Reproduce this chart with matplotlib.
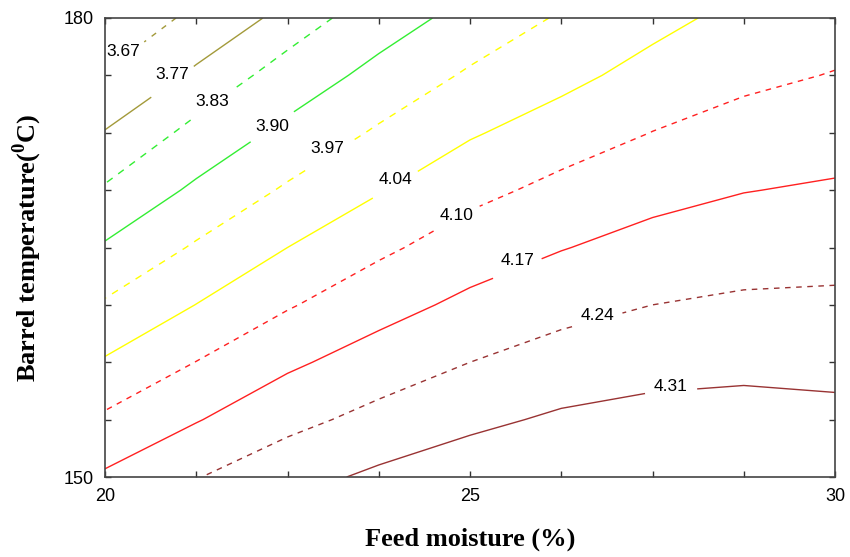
import numpy as np
import matplotlib
matplotlib.use("Agg")
import matplotlib.pyplot as plt

# Grid (feed moisture %, barrel temperature degC)
moisture = [20.0, 21.25, 22.5, 23.75, 25.0, 26.25, 27.5, 28.75, 30.0]
temperature = [150.0, 153.75, 157.5, 161.25, 165.0, 168.75, 172.5, 176.25, 180.0]

# Response values; one row per temperature (150 -> 180),
# one column per moisture (20 -> 30)
z_t150 = [4.180, 4.237, 4.286, 4.323, 4.350, 4.365, 4.372, 4.376, 4.365]
z_t154 = [4.110, 4.166, 4.220, 4.261, 4.295, 4.320, 4.332, 4.335, 4.328]
z_t158 = [4.047, 4.101, 4.158, 4.202, 4.240, 4.269, 4.286, 4.293, 4.290]
z_t161 = [3.978, 4.041, 4.094, 4.144, 4.186, 4.218, 4.240, 4.251, 4.253]
z_t165 = [3.908, 3.978, 4.040, 4.087, 4.133, 4.167, 4.194, 4.209, 4.215]
z_t169 = [3.837, 3.913, 3.979, 4.036, 4.082, 4.117, 4.148, 4.168, 4.178]
z_t173 = [3.775, 3.848, 3.918, 3.979, 4.034, 4.069, 4.101, 4.126, 4.140]
z_t176 = [3.677, 3.787, 3.856, 3.922, 3.979, 4.023, 4.061, 4.085, 4.103]
z_t180 = [3.575, 3.697, 3.797, 3.864, 3.925, 3.977, 4.022, 4.058, 4.070]

levels = [3.67, 3.77, 3.83, 3.90, 3.97, 4.04, 4.10, 4.17, 4.24, 4.31]
level_labels = ["3.67", "3.77", "3.83", "3.90", "3.97", "4.04", "4.10", "4.17", "4.24", "4.31"]

line_colors = ["#a39a3a", "#a39a3a", "#33ee33", "#33ee33", "#ffff00", "#ffff00",
               "#ff2020", "#ff2020", "#993333", "#993333"]
line_styles = [(0, (4, 5)), "solid", (0, (5, 5)), "solid", (0, (5, 5)), "solid",
               (0, (4, 4)), "solid", (0, (4, 4)), "solid"]

Z = np.array([z_t150, z_t154, z_t158, z_t161, z_t165, z_t169, z_t173, z_t176, z_t180])
X, Y = np.meshgrid(moisture, temperature)

plt.rcParams["mathtext.fontset"] = "custom"
plt.rcParams["mathtext.bf"] = "Liberation Serif:bold"
plt.rcParams["mathtext.rm"] = "Liberation Serif"

fig = plt.figure(figsize=(8.5, 5.57), dpi=100)
ax = fig.add_axes([105 / 850, 1 - 477 / 557, 730 / 850, 459 / 557])

cs = ax.contour(X, Y, Z, levels=levels, colors=line_colors, linewidths=1.0)
cs.set_linestyles(line_styles)

# label anchor points on the lines, and upward text offsets (degC)
label_pos = [(20.25, 177.4), (20.9, 176.0), (21.47, 174.3), (22.29, 172.9),
             (23.04, 171.0), (23.99, 169.0), (24.78, 167.2), (25.6, 164.2),
             (26.73, 160.5), (27.75, 155.9)]
label_lift = [0.4, 0.5, 0.2, 0.05, 0.5, 0.35, 0.15, 0.5, 0.3, 0.25]
fmt = {lv: lb for lv, lb in zip(levels, level_labels)}
txts = ax.clabel(cs, levels=levels, fmt=fmt, manual=label_pos, inline=True,
                 inline_spacing=7, fontsize=12.5, colors="black")
for t in txts:
    t.set_rotation(0)
    t.set_family("Liberation Sans")
    x0, y0 = t.get_position()
    # find matching lift by label text
    idx = level_labels.index(t.get_text()) if t.get_text() in level_labels else None
    if idx is not None:
        t.set_position((x0, y0 + label_lift[idx]))

ax.set_xlim(20, 30)
ax.set_ylim(150, 180)
ax.set_xticks([20, 25, 30])
ax.set_xticks([21.25, 22.5, 23.75, 26.25, 27.5, 28.75], minor=True)
ax.set_yticks([150, 180])
ax.set_yticks([153.75, 157.5, 161.25, 165, 168.75, 172.5, 176.25], minor=True)
ax.tick_params(which="both", direction="in", top=True, right=True, length=4,
               width=1, color="#333333", labelsize=13, pad=8)
for lab in ax.get_xticklabels() + ax.get_yticklabels():
    lab.set_family("Liberation Sans")
for sp in ax.spines.values():
    sp.set_color("#444444")
    sp.set_linewidth(1.2)

ax.set_xlabel("Feed moisture (%)", family="Liberation Serif", fontweight="bold",
              fontsize=19, labelpad=16)
ax.set_ylabel(r"Barrel temperature($^{\mathbf{0}}$C)", family="Liberation Serif",
              fontweight="bold", fontsize=19, labelpad=14)

fig.savefig("out.png", dpi=100)
